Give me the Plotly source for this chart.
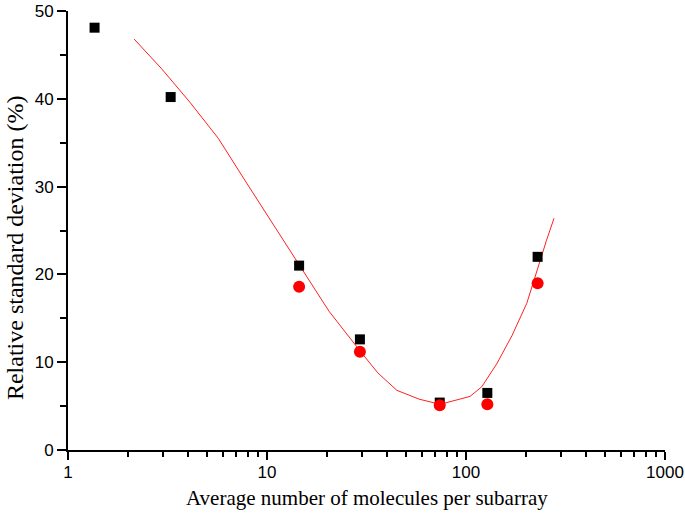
import plotly.graph_objects as go

# Data
sq_x = [1.36, 3.28, 14.5, 29.3, 73.8, 128, 229]
sq_y = [48.1, 40.2, 21.0, 12.6, 5.4, 6.5, 22.0]

ci_x = [14.5, 29.3, 73.8, 128, 229]
ci_y = [18.6, 11.2, 5.1, 5.2, 19.0]

fit_x = [2.15, 2.96, 4.1, 5.69, 7.75, 10.5, 14.6, 20.5, 29.3, 36, 44.9, 58, 74,
         104.7, 120, 142.6, 170, 202, 254, 277]
fit_y = [46.8, 43.4, 39.6, 35.5, 30.7, 26.0, 21.0, 15.8, 11.3, 8.8, 6.8, 5.8, 5.2,
         6.1, 7.2, 9.8, 13.0, 16.7, 23.9, 26.4]

x_tickvals = [1, 10, 100, 1000]
x_ticktext = ["1", "10", "100", "1000"]

x_title = "Average number of molecules per subarray"
y_title = "Relative standard deviation (%)"

serif = "Liberation Serif, Times New Roman, serif"

fig = go.Figure()
fig.add_trace(go.Scatter(x=fit_x, y=fit_y, mode="lines",
                         line=dict(color="#ff2020", width=1), showlegend=False))
fig.add_trace(go.Scatter(x=sq_x, y=sq_y, mode="markers",
                         marker=dict(symbol="square", size=10, color="black"),
                         showlegend=False))
fig.add_trace(go.Scatter(x=ci_x, y=ci_y, mode="markers",
                         marker=dict(symbol="circle", size=12, color="#ff0000"),
                         showlegend=False))

fig.update_layout(
    width=685, height=519,
    margin=dict(l=68, r=20, t=11, b=69, autoexpand=False),
    paper_bgcolor="white", plot_bgcolor="white",
    font=dict(family="Liberation Sans, Arial, sans-serif", size=17, color="black"),
    xaxis=dict(
        type="log", range=[0, 3], tickvals=x_tickvals, ticktext=x_ticktext,
        automargin=False, ticklabelstandoff=-2,
        showgrid=False, zeroline=False,
        showline=True, linecolor="black", linewidth=2,
        ticks="outside", ticklen=8, tickwidth=2, tickcolor="black",
        minor=dict(ticks="outside", ticklen=5, tickwidth=2, tickcolor="black",
                   dtick="D1", showgrid=False),
    ),
    yaxis=dict(
        range=[0, 50], dtick=10, automargin=False,
        showgrid=False, zeroline=False,
        showline=True, linecolor="black", linewidth=2,
        ticks="outside", ticklen=9, tickwidth=2, tickcolor="black",
        minor=dict(ticks="outside", ticklen=6, tickwidth=2, tickcolor="black",
                   dtick=5, showgrid=False),
    ),
    annotations=[
        dict(text=x_title, xref="paper", yref="paper", x=0.5, y=0,
             xanchor="center", yanchor="middle", yshift=-48, showarrow=False,
             font=dict(family=serif, size=21, color="black")),
        dict(text=y_title, xref="paper", yref="paper", x=0, y=0.46,
             xanchor="center", yanchor="middle", xshift=-53, textangle=-90,
             showarrow=False, font=dict(family=serif, size=24, color="black")),
    ],
)

fig.write_html("out.html", config={"displayModeBar": False},
               post_script="document.body.style.margin='0';")
